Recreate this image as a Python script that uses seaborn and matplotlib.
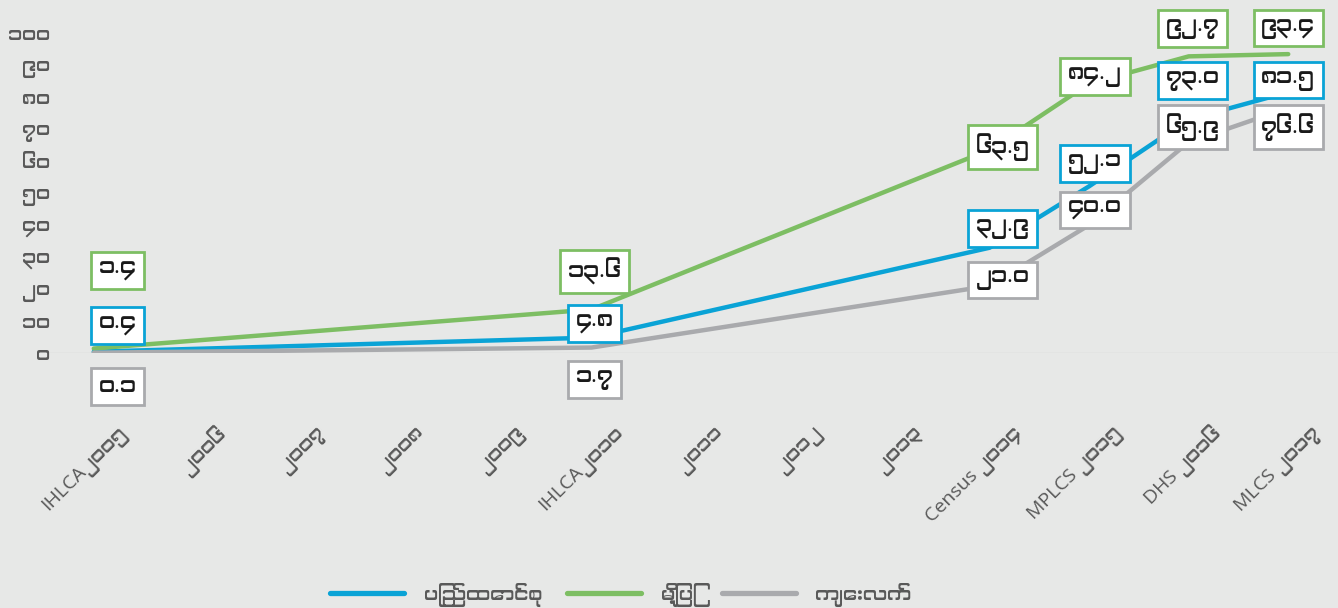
import pandas as pd
import seaborn as sns
import matplotlib.pyplot as plt
from matplotlib import font_manager
from matplotlib.ft2font import FT2Font
from matplotlib.transforms import ScaledTranslation
from matplotlib.lines import Line2D

# x axis categories (survey years and the years in between)
categories = ["IHLCA၂၀၀၅", "၂၀၀၆", "၂၀၀၇", "၂၀၀၈", "၂၀၀၉", "IHLCA၂၀၁၀",
              "၂၀၁၁", "၂၀၁၂", "၂၀၁၃", "Census ၂၀၁၄", "MPLCS ၂၀၁၅",
              "DHS ၂၀၁၆", "MLCS ၂၀၁၇"]
surveys = ["IHLCA၂၀၀၅", "IHLCA၂၀၁၀", "Census ၂၀၁၄", "MPLCS ၂၀၁၅",
           "DHS ၂၀၁၆", "MLCS ၂၀၁၇"]

union = [0.4, 4.8, 32.9, 52.1, 73.0, 81.5]
urban = [1.4, 13.6, 63.5, 84.2, 92.7, 93.4]
rural = [0.1, 1.7, 21.0, 40.0, 65.9, 76.6]

series_names = ["ပြည်ထောင်စု", "မြို့ပြ", "ကျေးလက်"]
ytick_values = [0, 10, 20, 30, 40, 50, 60, 70, 80, 90, 100]
ytick_labels = ["၀", "၁၀", "၂၀", "၃၀", "၄၀", "၅၀", "၆၀", "၇၀", "၈၀", "၉၀", "၁၀၀"]

colors = {"ပြည်ထောင်စု": "#0AA3D6", "မြို့ပြ": "#7DBE63", "ကျေးလက်": "#A9AAAD"}
BG = "#E7E8E7"
TXT = "#595959"

# label box offsets in pixels (dx, dy) - layout only
offsets = {
    "မြို့ပြ": [(24, 78), (3, 38), (13, 3), (6, 7), (4, 28), (0, 26)],
    "ပြည်ထောင်စု": [(24, 26), (3, 14), (13, 19), (6, 23), (4, 39), (0, 12)],
    "ကျေးလက်": [(24, -34), (3, -32), (13, 6), (6, 15), (4, 15), (0, -19)],
}


def find_fonts(ch):
    found = []
    for f in font_manager.fontManager.ttflist:
        try:
            if ord(ch) in FT2Font(f.fname).get_charmap():
                found.append(f.name)
        except Exception:
            pass
    # prefer proportional Myanmar fonts over monospaced fallbacks
    found.sort(key=lambda n: ("Mono" in n or "mono" in n,
                              "Myanmar" not in n and "Padauk" not in n))
    return found


my_fonts = find_fonts("က")
families = ["Open Sans"] + my_fonts[:1] + ["DejaVu Sans"]

to_my = str.maketrans("0123456789", "၀၁၂၃၄၅၆၇၈၉")

pos = [categories.index(s) for s in surveys]
df = pd.concat([
    pd.DataFrame({"pos": pos, "value": v, "area": n, "survey": surveys})
    for n, v in zip(series_names, [union, urban, rural])
])

sns.set_style("white")
plt.rcParams["font.family"] = families

fig = plt.figure(figsize=(13.38, 6.08), dpi=100, facecolor=BG)
ax = fig.add_axes([44 / 1338, 1 - 353 / 608, 1294 / 1338, 320 / 608])
ax.set_facecolor(BG)

sns.lineplot(data=df, x="pos", y="value", hue="area", palette=colors,
             linewidth=3.2, legend=False, ax=ax, sort=True)

ax.axhline(0, color="#D6D7D6", lw=1, zorder=0)

ax.set_xlim(-0.5, len(categories) - 0.5)
ax.set_ylim(0, 100)
for s in ax.spines.values():
    s.set_visible(False)

ax.set_yticks(ytick_values)
ax.set_yticklabels(ytick_labels, fontsize=14, color=TXT)
ax.tick_params(axis="y", length=0, pad=-4)

ax.set_xticks(range(len(categories)))
ax.set_xticklabels(categories, fontsize=14, color=TXT, rotation=45,
                   ha="right", va="center", rotation_mode="anchor")
ax.tick_params(axis="x", length=0, pad=56)
shift = ScaledTranslation(30 / 100, 0, fig.dpi_scale_trans)
for lab in ax.get_xticklabels():
    lab.set_transform(lab.get_transform() + shift)

ax.set_xticks([k - 0.5 for k in range(1, len(categories))], minor=True)
ax.tick_params(axis="x", which="minor", length=4, color="#D0D0D0", width=1)
ax.set_xlabel("")
ax.set_ylabel("")

for name, vals in zip(series_names, [union, urban, rural]):
    for p, v, (dx, dy) in zip(pos, vals, offsets[name]):
        ax.annotate(f"{v:.1f}".translate(to_my), xy=(p, v), xytext=(dx, dy),
                    textcoords="offset pixels", ha="center", va="center",
                    fontsize=16, color="#1A1A1A", annotation_clip=False,
                    bbox=dict(boxstyle="square,pad=0.35", fc="white",
                              ec=colors[name], lw=2), zorder=5)

handles = [Line2D([0], [0], color=colors[n], lw=3.8, solid_capstyle="round")
           for n in series_names]
fig.legend(handles, series_names, loc="center", bbox_to_anchor=(0.464, 13 / 608),
           ncol=3, frameon=False, fontsize=14, labelcolor=TXT,
           handlelength=3.8, handletextpad=1.0, columnspacing=1.3)

fig.savefig("out.png", dpi=100, facecolor=BG)
